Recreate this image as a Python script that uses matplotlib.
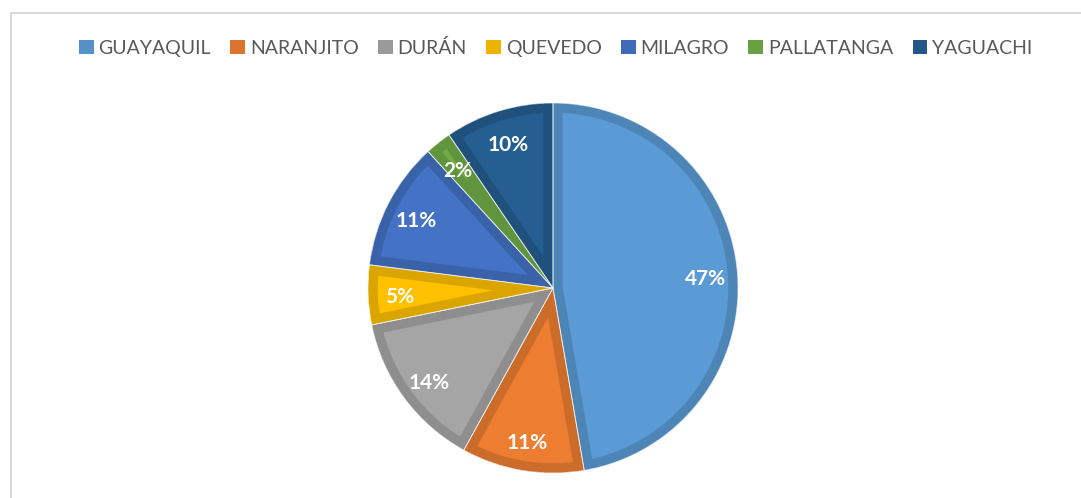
import matplotlib
matplotlib.use("Agg")
import matplotlib.pyplot as plt
from matplotlib.patches import Wedge, Rectangle
import matplotlib.colors as mcolors

plt.rcParams['font.family'] = ['Lato', 'DejaVu Sans']

ciudades = ['GUAYAQUIL', 'NARANJITO', 'DURÁN', 'QUEVEDO', 'MILAGRO', 'PALLATANGA', 'YAGUACHI']
porcentajes = [47.3, 10.7, 13.8, 5.2, 11.2, 2.3, 9.5]
colores = ['#5B9BD5', '#ED7D31', '#A5A5A5', '#FFC000', '#4472C4', '#70AD47', '#255E91']


def oscurecer(c, f=0.86):
    r, g, b = mcolors.to_rgb(c)
    return (r * f, g * f, b * f)


fig = plt.figure(figsize=(10.81, 4.98), dpi=100)

# marco gris claro
fig.add_artist(plt.Line2D([10.5 / 1081, 1], [1 - 13 / 498, 1 - 13 / 498], color='#D9D9D9', lw=1.5))
fig.add_artist(plt.Line2D([11 / 1081, 11 / 1081], [0, 1 - 13 / 498], color='#D9D9D9', lw=1.5))

ax = fig.add_axes([368 / 1081, 25 / 498, 370 / 1081, 370 / 498])
wedges, texts, autotexts = ax.pie(porcentajes, colors=colores, startangle=90, counterclock=False,
                                  radius=1, autopct='%.0f%%', pctdistance=0.83,
                                  wedgeprops=dict(edgecolor='none', linewidth=0),
                                  textprops=dict(color='white', fontsize=15, fontweight='bold'))

# borde interior mas oscuro en cada porcion
for w, c in zip(wedges, colores):
    borde = Wedge(w.center, w.r, w.theta1, w.theta2, facecolor='none',
                  edgecolor=oscurecer(c), linewidth=14, zorder=2)
    ax.add_patch(borde)
    borde.set_clip_path(w)
    sep = Wedge(w.center, w.r, w.theta1, w.theta2, facecolor='none',
                edgecolor='white', linewidth=0.6, alpha=0.7, zorder=2.5)
    ax.add_patch(sep)
for t in autotexts:
    t.set_zorder(5)
    x, y = t.get_position()
    t.set_position((x, y - 0.02))

ax.set_xlim(-1, 1)
ax.set_ylim(-1, 1)
ax.set_aspect('equal')
ax.axis('off')

handles = [Rectangle((0, 0), 1, 1, facecolor=oscurecer(c, 0.93), edgecolor='none') for c in colores]
fig.legend(handles, ciudades, loc='center', bbox_to_anchor=(0.514, 1 - 48 / 498), ncol=7,
           frameon=False, fontsize=14, handlelength=0.75, handleheight=0.75,
           handletextpad=0.25, columnspacing=1.0, labelcolor='#595959')

fig.savefig('out.png', dpi=100)
